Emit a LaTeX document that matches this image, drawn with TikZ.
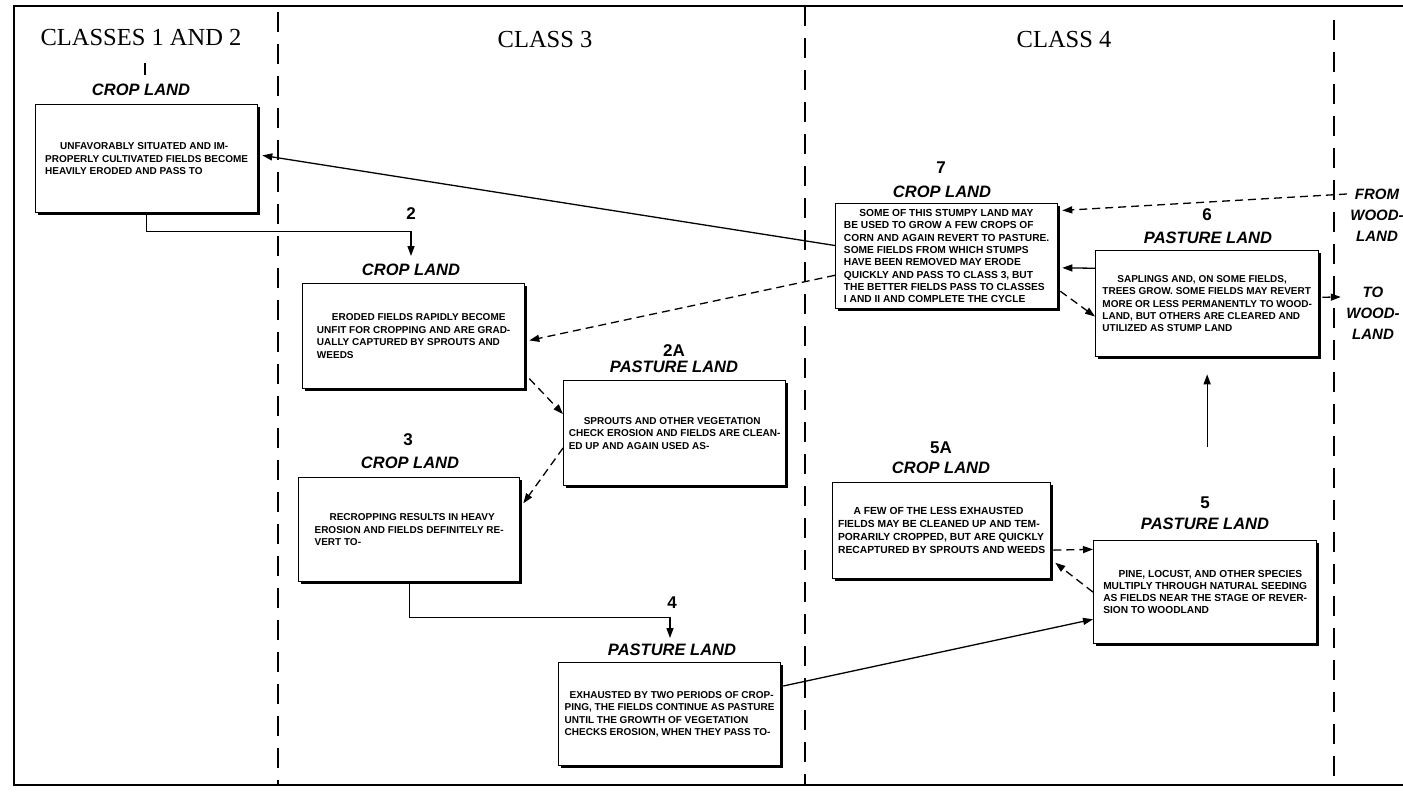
\documentclass[tikz,border=0pt]{standalone}
\usepackage{fontspec}
\setmainfont{Liberation Serif}
\newfontfamily\lettr{Liberation Sans}
\usetikzlibrary{arrows.meta,shadows,calc}
\begin{document}
\begin{tikzpicture}[x=1pt,y=-1pt,
  box/.style={draw, line width=1.3pt, fill=white, drop shadow={shadow xshift=2.5pt, shadow yshift=-2.5pt, opacity=1, fill=black}, inner xsep=3pt, inner ysep=3pt, align=left, anchor=north west, font=\lettr\bfseries\fontsize{10}{12.5}\selectfont},
  ttl/.style={font=\lettr\bfseries\itshape\fontsize{16.5}{16.5}\selectfont},
  num/.style={font=\lettr\bfseries\fontsize{17}{17}\selectfont},
  hdr/.style={font=\fontsize{24.5}{24.5}\selectfont},
  side/.style={font=\lettr\bfseries\itshape\fontsize{15}{21}\selectfont, align=center},
  divider/.style={line width=2.2pt, dash pattern=on 20pt off 12pt},
  arr/.style={line width=1.3pt, -{Triangle[length=10pt,width=7pt]}},
  darr/.style={arr, dash pattern=on 8pt off 5pt},
]
\useasboundingbox (0,0) rectangle (1403,793);
% frame
\draw[line width=2.5pt] (1403,6) -- (14,6) -- (14,785) -- (1403,785);
\coordinate (d1t) at (278,12); \coordinate (d1b) at (278,785);
\coordinate (d2t) at (805,6);  \coordinate (d2b) at (805,785);
\coordinate (d3t) at (1334,20); \coordinate (d3b) at (1334,785);
\draw[divider] (d1t) -- (d1b);
\draw[divider] (d2t) -- (d2b);
\draw[divider] (d3t) -- (d3b);
% headers
\node[hdr] (h12) at (141,38) {CLASSES 1 AND 2};
\node[hdr] (h3) at (545,40) {CLASS 3};
\node[hdr] (h4) at (1064,40) {CLASS 4};
\coordinate (tickA) at (145,63); \coordinate (tickB) at (145,75);
\draw[line width=1.3pt] (tickA) -- (tickB);
% boxes
\node[box, minimum width=222, minimum height=108] (b1) at (35,104)
 {\hspace*{1.5em}UNFAVORABLY SITUATED AND IM-\\PROPERLY CULTIVATED FIELDS BECOME\\HEAVILY ERODED AND PASS TO};
\node[box, minimum width=222, minimum height=105] (b2) at (302,283)
 {\hspace*{1.5em}ERODED FIELDS RAPIDLY BECOME\\UNFIT FOR CROPPING AND ARE GRAD-\\UALLY CAPTURED BY SPROUTS AND\\WEEDS};
\node[box, minimum width=222, minimum height=105] (b2a) at (563,380)
 {\hspace*{1.5em}SPROUTS AND OTHER VEGETATION\\CHECK EROSION AND FIELDS ARE CLEAN-\\ED UP AND AGAIN USED AS-};
\node[box, minimum width=221, minimum height=104] (b3) at (298,477)
 {\hspace*{1.5em}RECROPPING RESULTS IN HEAVY\\EROSION AND FIELDS DEFINITELY RE-\\VERT TO-};
\node[box, minimum width=222, minimum height=103] (b4) at (558,662)
 {\hspace*{0.5em}EXHAUSTED BY TWO PERIODS OF CROP-\\PING, THE FIELDS CONTINUE AS PASTURE\\UNTIL THE GROWTH OF VEGETATION\\CHECKS EROSION, WHEN THEY PASS TO-};
\node[box, minimum width=222, minimum height=105, font=\lettr\bfseries\fontsize{10.2}{12.3}\selectfont] (b7) at (835,203)
 {\hspace*{1.5em}SOME OF THIS STUMPY LAND MAY\\BE USED TO GROW A FEW CROPS OF\\CORN AND AGAIN REVERT TO PASTURE.\\SOME FIELDS FROM WHICH STUMPS\\HAVE BEEN REMOVED MAY ERODE\\QUICKLY AND PASS TO CLASS 3, BUT\\THE BETTER FIELDS PASS TO CLASSES\\I AND II AND COMPLETE THE CYCLE};
\node[box, minimum width=223, minimum height=106, font=\lettr\bfseries\fontsize{10}{12.2}\selectfont] (b6) at (1095,250)
 {\hspace*{1.5em}SAPLINGS AND, ON SOME FIELDS,\\TREES GROW. SOME FIELDS MAY REVERT\\MORE OR LESS PERMANENTLY TO WOOD-\\LAND, BUT OTHERS ARE CLEARED AND\\UTILIZED AS STUMP LAND};
\node[box, minimum width=218, minimum height=96, font=\lettr\bfseries\fontsize{10.3}{13}\selectfont] (b5a) at (832,482)
 {\hspace*{1.5em}A FEW OF THE LESS EXHAUSTED\\FIELDS MAY BE CLEANED UP AND TEM-\\PORARILY CROPPED, BUT ARE QUICKLY\\RECAPTURED BY SPROUTS AND WEEDS};
\node[box, minimum width=223, minimum height=103, font=\lettr\bfseries\fontsize{10.2}{11.8}\selectfont] (b5) at (1093,540)
 {\hspace*{1.5em}PINE, LOCUST, AND OTHER SPECIES\\MULTIPLY THROUGH NATURAL SEEDING\\AS FIELDS NEAR THE STAGE OF REVER-\\SION TO WOODLAND};
% titles and numbers
\node[ttl] (t1) at (141,90) {CROP LAND};
\node[num] (n2) at (411,214) {2};
\node[ttl] (t2) at (411,270) {CROP LAND};
\node[num] (n2a) at (674,351) {2A};
\node[ttl] (t2a) at (674,367) {PASTURE LAND};
\node[num] (n3) at (408,440) {3};
\node[ttl] (t3) at (410,463) {CROP LAND};
\node[num] (n4) at (672,603) {4};
\node[ttl] (t4) at (672,650) {PASTURE LAND};
\node[num] (n7) at (941,168) {7};
\node[ttl] (t7) at (942,192) {CROP LAND};
\node[num] (n6) at (1207,215) {6};
\node[ttl] (t6) at (1208,238) {PASTURE LAND};
\node[num] (n5a) at (941,448) {5A};
\node[ttl] (t5a) at (941,468) {CROP LAND};
\node[num] (n5) at (1205,503) {5};
\node[ttl] (t5) at (1205,524) {PASTURE LAND};
\node[side] (from) at (1377,215) {FROM\\WOOD-\\LAND};
\node[side] (to) at (1373,313) {TO\\WOOD-\\LAND};
% connectors
\coordinate (k2) at (411,256);
\draw[arr] (b1.south) |- ($(b1.south)+(0,18)$) -| (k2);
\coordinate (k4) at (670,638);
\draw[arr] (b3.south) |- ($(b3.south)+(0,35)$) -| (k4);
\draw[arr] ($(b7.north west)!0.4!(b7.south west)$) -- ([xshift=4pt]$(b1.north east)!0.47!(b1.south east)$);
\draw[darr] ($(b7.north west)!0.68!(b7.south west)$) -- ([xshift=4pt]$(b2.north east)!0.54!(b2.south east)$);
\draw[darr] ([xshift=4pt]$(b2.north east)!0.9!(b2.south east)$) -- ($(b2a.north west)!0.32!(b2a.south west)$);
\draw[darr] ($(b2a.north west)!0.64!(b2a.south west)$) -- ([xshift=3pt]$(b3.north east)!0.25!(b3.south east)$);
\draw[arr] ([xshift=2pt]$(b4.north east)!0.23!(b4.south east)$) -- ($(b5.north west)!0.76!(b5.south west)$);
\draw[darr] ([xshift=2pt]$(b5a.north east)!0.70!(b5a.south east)$) -- ($(b5.north west)!0.09!(b5.south west)$);
\draw[darr] ($(b5.north west)!0.5!(b5.south west)$) -- ([xshift=4pt]$(b5a.north east)!0.83!(b5a.south east)$);
\draw[darr] ([xshift=2pt]$(b7.north east)!0.83!(b7.south east)$) -- ($(b6.north west)!0.62!(b6.south west)$);
\draw[arr] ($(b6.north west)!0.17!(b6.south west)$) -- ([xshift=4pt]$(b7.north east)!0.61!(b7.south east)$);
\draw[darr] (from.north west |- 0,194) -- ([xshift=4pt]$(b7.north east)!0.07!(b7.south east)$);
\draw[darr] ([xshift=3pt]$(b6.north east)!0.44!(b6.south east)$) -- ([xshift=-2pt]to.north west |- 0,297);
\coordinate (up5) at (b6.south |- 0,447);
\draw[arr] (up5) -- ([yshift=-17pt]b6.south);
\end{tikzpicture}
\end{document}
